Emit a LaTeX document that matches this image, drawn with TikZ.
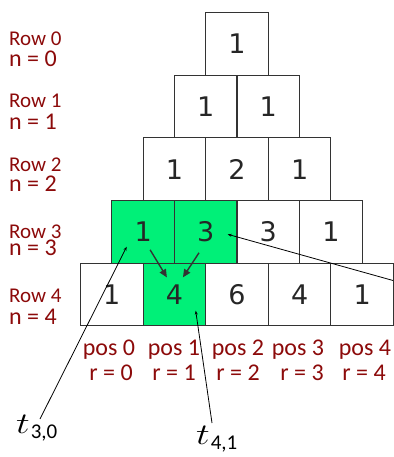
\documentclass[tikz,border=0pt]{standalone}
\usepackage{fontspec}
\setmainfont{Carlito}
\newfontfamily\numfont{DejaVu Sans}
\usetikzlibrary{arrows.meta}
\definecolor{lab}{RGB}{140,10,10}
\definecolor{hl}{RGB}{0,240,120}
\newcommand{\tsym}[1]{\scalebox{1.55}[1.2]{$t$}\kern1pt\raisebox{-5pt}{\fontsize{21}{21}\selectfont #1}}
\begin{document}
\begin{tikzpicture}[x=1pt,y=-1pt,
  cell/.style={draw=black!80, line width=1.1pt, minimum width=62.6pt, minimum height=62.6pt, inner sep=0pt, font=\numfont\fontsize{27}{27}\selectfont, text=black!85},
  hlcell/.style={cell, fill=hl},
  rowlab/.style={anchor=west, text=lab, inner sep=0pt, font=\fontsize{21}{21}\selectfont},
  nlab/.style={anchor=west, text=lab, inner sep=0pt, font=\fontsize{24}{24}\selectfont},
  poslab/.style={text=lab, inner sep=0pt, font=\fontsize{24}{24}\selectfont},
  ptr/.style={black, line width=0.8pt, -{Stealth[length=4pt,width=3pt]}},
  addarr/.style={black!80, line width=1.4pt, -{Triangle[length=8pt,width=7pt]}},
  tlab/.style={inner sep=0pt, font=\fontsize{24}{24}\selectfont, anchor=base west}]
\useasboundingbox (0,0) rectangle (393,457);

% row 0
\node[cell] (b00) at (237,44) {1};
% row 1
\node[cell] (b10) at (205.7,106.6) {1};
\node[cell] (b11) at (268.3,106.6) {1};
% row 2
\node[cell] (b20) at (174.4,169.2) {1};
\node[cell] (b21) at (237,169.2) {2};
\node[cell] (b22) at (299.6,169.2) {1};
% row 3
\node[hlcell] (b30) at (143.1,231.8) {1};
\node[hlcell] (b31) at (205.7,231.8) {3};
\node[cell] (b32) at (268.3,231.8) {3};
\node[cell] (b33) at (330.9,231.8) {1};
% row 4
\node[cell] (b40) at (111.8,294.4) {1};
\node[hlcell] (b41) at (174.4,294.4) {4};
\node[cell] (b42) at (237,294.4) {6};
\node[cell] (b43) at (299.6,294.4) {4};
\node[cell] (b44) at (362.2,294.4) {1};

% row labels
\node[rowlab] (r0) at (9,39) {Row 0};
\node[nlab] (n0) at (9,59) {n = 0};
\node[rowlab] (r1) at (9,101) {Row 1};
\node[nlab] (n1) at (9,122) {n = 1};
\node[rowlab] (r2) at (9,165) {Row 2};
\node[nlab] (n2) at (9,184) {n = 2};
\node[rowlab] (r3) at (9,232) {Row 3};
\node[nlab] (n3) at (9,248) {n = 3};
\node[rowlab] (r4) at (9,296) {Row 4};
\node[nlab] (n4) at (9,317) {n = 4};

% position labels
\node[poslab] (p0) at (109,350) {pos 0};
\node[poslab] (p1) at (174,350) {pos 1};
\node[poslab] (p2) at (238,350) {pos 2};
\node[poslab] (p3) at (298,350) {pos 3};
\node[poslab] (p4) at (365,350) {pos 4};
\node[poslab] (q0) at (111,373) {r = 0};
\node[poslab] (q1) at (174,373) {r = 1};
\node[poslab] (q2) at (238,373) {r = 2};
\node[poslab] (q3) at (302,373) {r = 3};
\node[poslab] (q4) at (364,373) {r = 4};

% t labels
\node[tlab] (t30) at (16,433) {\tsym{3,0}};
\node[tlab] (t41) at (196,444) {\tsym{4,1}};

% connector anchors
\coordinate (t30top) at (40,419);
\coordinate (t41top) at (212,423);
\coordinate (in30) at (126.7,246.7);
\coordinate (in41) at (195.7,310.7);
\coordinate (in31) at (227.7,234.3);
\coordinate (offr) at (393,280.5);

\draw[ptr] (t30top) -- (in30);
\draw[ptr] (t41top) -- (in41);
\draw[ptr] (offr) -- (in31);

% addition arrows
\draw[addarr] ([shift={(7,18)}]b30.center) -- ([shift={(-7.5,-17)}]b41.center);
\draw[addarr] ([shift={(-6.7,21)}]b31.center) -- ([shift={(8.5,-17)}]b41.center);
\end{tikzpicture}
\end{document}
